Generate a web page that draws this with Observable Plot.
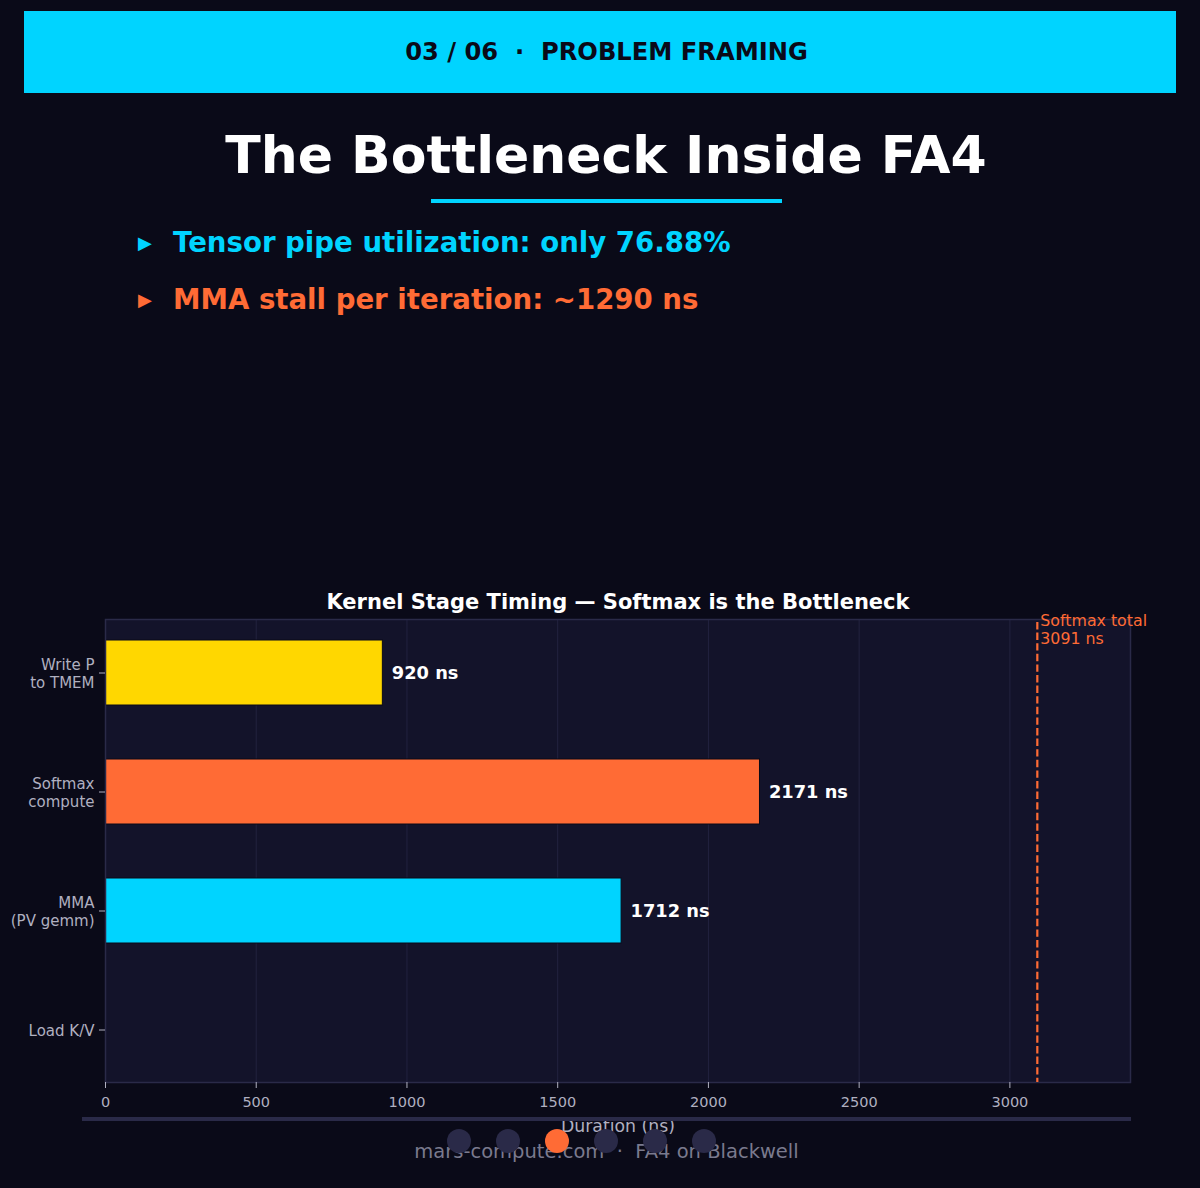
<!DOCTYPE html>
<html>
<head>
<meta charset="utf-8">
<script src="https://cdn.jsdelivr.net/npm/d3@7"></script>
<script src="https://cdn.jsdelivr.net/npm/@observablehq/plot@0.6"></script>
<style>
  html, body { margin: 0; padding: 0; background: #0a0a18; }
  #page { position: relative; width: 1200px; height: 1188px; background: #0a0a18; overflow: hidden; font-family: "DejaVu Sans", sans-serif; }
  .abs { position: absolute; }
  #banner { left: 24px; top: 11px; width: 1152px; height: 82px; background: #00d4ff; color: #0a0a18; box-sizing: border-box; padding-left: 13px;
    font-weight: bold; font-size: 24.2px; display: flex; align-items: center; justify-content: center; white-space: pre; }
  #title { left: 0; width: 1212px; top: 122px; text-align: center; color: #ffffff; font-weight: bold; font-size: 52px; line-height: 66px; }
  #underline { left: 431px; top: 199px; width: 351px; height: 4px; background: #00d4ff; }
  .bullet { left: 138px; font-weight: bold; font-size: 27.6px; line-height: 34px; white-space: pre; }
  .bullet .tri { font-size: 18px; display: inline-block; width: 35px; vertical-align: 3px; }
  #ctitle { left: 0; width: 1236px; top: 589px; text-align: center; color: #ffffff; font-weight: bold; font-size: 21px; line-height: 26px; }
  #chart { left: 0; top: 580px; }
  #fline { left: 82px; top: 1117px; width: 1049px; height: 4px; background: #2a2a48; }
  .dot { width: 24px; height: 24px; border-radius: 50%; background: #2a2a48; top: 1129px; }
  #footer { left: 0; width: 1213px; top: 1140px; text-align: center; color: #7a7a8e; font-size: 19.5px; line-height: 24px; white-space: pre; }
</style>
</head>
<body>
<div id="page">
  <div id="banner" class="abs">03 / 06  ·  PROBLEM FRAMING</div>
  <div id="title" class="abs">The Bottleneck Inside FA4</div>
  <div id="underline" class="abs"></div>
  <div class="abs bullet" style="top:226px;color:#00d4ff"><span class="tri">▶</span>Tensor pipe utilization: only 76.88%</div>
  <div class="abs bullet" style="top:283px;color:#ff6b35"><span class="tri">▶</span>MMA stall per iteration: ~1290 ns</div>
  <div id="ctitle" class="abs">Kernel Stage Timing — Softmax is the Bottleneck</div>
  <div id="chart" class="abs"></div>
  <div id="fline" class="abs"></div>
  <div id="footer" class="abs">mars-compute.com  ·  FA4 on Blackwell</div>
  <div id="dots"></div>
</div>
<script>
const stages = ["Write P\nto TMEM", "Softmax\ncompute", "MMA\n(PV gemm)", "Load K/V"];
const durations = [920, 2171, 1712, 0];
const stageColors = ["#ffd700", "#ff6b35", "#00d4ff", "#8a7fff"];
const softmaxTotal = 3091;
const xTicks = [0, 500, 1000, 1500, 2000, 2500, 3000];
const xLabel = "Duration (ns)";
const slideCount = 6;
const currentSlide = 3;

const data = stages.map((s, i) => ({stage: s, value: durations[i], color: stageColors[i]}));

const chart = Plot.plot({
  width: 1200,
  height: 562,
  marginLeft: 105,
  marginRight: 70,
  marginTop: 39,
  marginBottom: 60,
  style: {background: "transparent", color: "#b0b0c0", fontFamily: "'DejaVu Sans', sans-serif", fontSize: "15px"},
  x: {domain: [0, softmaxTotal * 1.1], ticks: xTicks, label: null},
  y: {domain: stages, paddingInner: 0.454, paddingOuter: 0.172, label: null},
  marks: [
    Plot.frame({fill: "#13132a", stroke: null}),
    Plot.gridX(xTicks, {stroke: "#2a2a48", strokeOpacity: 0.7, strokeWidth: 1}),
    Plot.barX(data, {x: "value", y: "stage", fill: "color", stroke: "#0a0a18", strokeWidth: 1}),
    Plot.text(data.filter(d => d.value > 0), {x: "value", y: "stage", text: d => `${d.value} ns`, dx: 9, textAnchor: "start", fill: "#ffffff", fontWeight: "bold", fontSize: 17.8}),
    Plot.frame({stroke: "#2a2a48", strokeWidth: 1.5}),
    Plot.ruleX([softmaxTotal], {stroke: "#ff6b35", strokeWidth: 2.2, strokeDasharray: "7.4,3.2", insetTop: 3}),
    Plot.text([softmaxTotal], {x: d => d, frameAnchor: "top", text: () => `Softmax total\n${softmaxTotal} ns`, textAnchor: "start", lineAnchor: "top", dx: 3, dy: -6, fill: "#ff6b35", fontSize: 15.8, lineHeight: 1.13}),
    Plot.axisX({ticks: xTicks, tickSize: 6, stroke: "#b0b0c0", fontSize: 14.5, tickPadding: 8, tickFormat: d => String(d), label: null}),
    Plot.text([xLabel], {frameAnchor: "bottom", dy: 44, lineAnchor: "middle", text: d => d, fill: "#b0b0c0", fontSize: 17.3}),
    Plot.axisY({tickSize: 6, stroke: "#b0b0c0", fontSize: 15, tickPadding: 5, lineHeight: 1.25})
  ]
});
document.getElementById("chart").appendChild(chart);

const dots = document.getElementById("dots");
for (let i = 0; i < slideCount; i++) {
  const d = document.createElement("div");
  d.className = "abs dot";
  d.style.left = (447 + i * 49) + "px";
  if (i + 1 === currentSlide) d.style.background = "#ff6b35";
  dots.appendChild(d);
}
</script>
</body>
</html>
